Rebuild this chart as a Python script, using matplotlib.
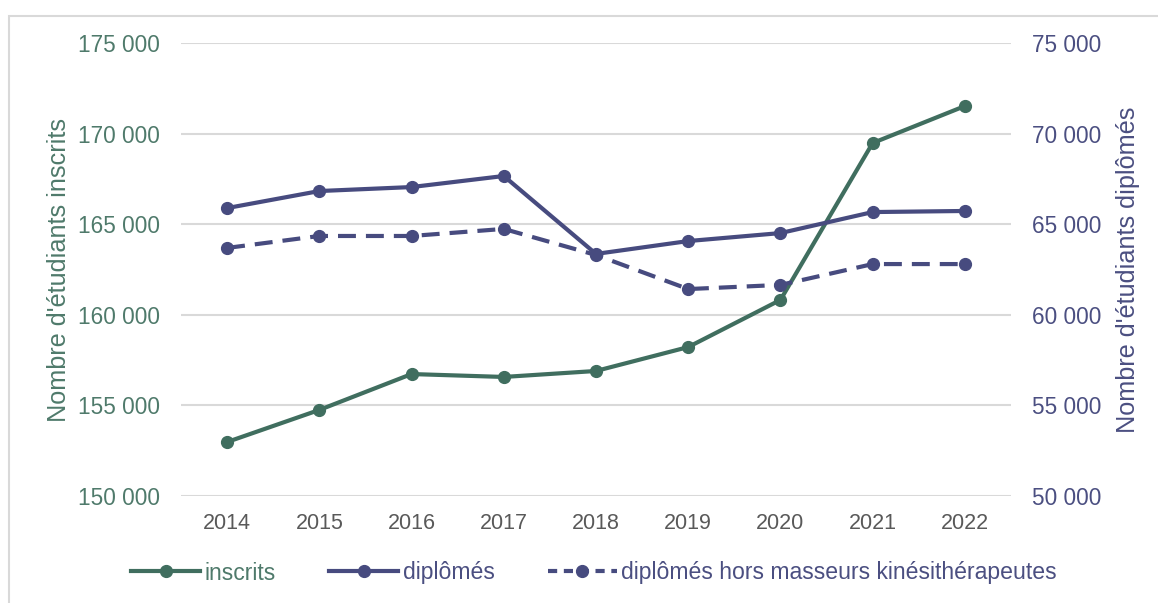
import matplotlib.pyplot as plt
import matplotlib.ticker as mticker
from matplotlib.lines import Line2D
from matplotlib.patches import Rectangle

# data
years = [2014, 2015, 2016, 2017, 2018, 2019, 2020, 2021, 2022]
inscrits = [152980, 154750, 156730, 156570, 156900, 158220, 160820, 169480, 171520]
diplomes = [65890, 66830, 67050, 67660, 63360, 64070, 64510, 65670, 65730]
diplomes_hors_mk = [63690, 64350, 64350, 64740, 63300, 61420, 61650, 62800, 62800]

green = '#406e5f'
navy = '#474b7f'
green_txt = '#4f7a6b'
navy_txt = '#4b4f81'
grid_col = '#d9d9d9'

plt.rcParams['font.family'] = ['Liberation Sans', 'DejaVu Sans']
fs = 16.3

def fmt_space(v, pos):
    return f'{int(v):,}'.replace(',', ' ')

fig = plt.figure(figsize=(11.58, 6.03), dpi=100)
fig.patches.append(Rectangle((9 / 1158, -0.1), 1.2, 1 - 16 / 603 + 0.1,
                             transform=fig.transFigure, fill=False,
                             edgecolor=grid_col, linewidth=1.5))

ax = fig.add_axes([181 / 1158, 1 - 496 / 603, (1011 - 181) / 1158, (496 - 43) / 603])
ax2 = ax.twinx()

ax.set_xlim(2013.5, 2022.5)
ax.set_ylim(150000, 175000)
ax2.set_ylim(50000, 75000)
ax.set_yticks(range(150000, 175001, 5000))
ax2.set_yticks(range(50000, 75001, 5000))
ax.set_xticks(years)

ax.grid(axis='y', color=grid_col, linewidth=1.5)
ax.set_axisbelow(True)

ax.plot(years, inscrits, color=green, linewidth=3, marker='o', markersize=8.5, zorder=3)
ax2.plot(years, diplomes, color=navy, linewidth=3, marker='o', markersize=8.5)
ax2.plot(years, diplomes_hors_mk, color=navy, linewidth=3, marker='o', markersize=8.5,
         dashes=(4.3, 2.4))

for a in (ax, ax2):
    for s in a.spines.values():
        s.set_visible(False)
    a.tick_params(length=0, labelsize=fs)
    a.yaxis.set_major_formatter(mticker.FuncFormatter(fmt_space))

ax.tick_params(axis='y', colors=green_txt, pad=15)
ax2.tick_params(axis='y', colors=navy_txt, pad=15)
ax.tick_params(axis='x', colors='#595959', labelsize=15.5, pad=12)

ax.set_ylabel("Nombre d'étudiants inscrits", color=green_txt, fontsize=18.2, labelpad=5)
ax2.set_ylabel("Nombre d'étudiants diplômés", color=navy_txt, fontsize=18.2, labelpad=11)

handles = [
    Line2D([], [], color=green, linewidth=3, marker='o', markersize=8.5),
    Line2D([], [], color=navy, linewidth=3, marker='o', markersize=8.5),
    Line2D([], [], color=navy, linewidth=3, marker='o', markersize=8.5, dashes=(2.2, 1.6)),
]
labels = ['inscrits', 'diplômés', 'diplômés hors masseurs kinésithérapeutes']
leg = fig.legend(handles, labels, loc='center', bbox_to_anchor=(594 / 1158, 1 - 573 / 603),
                 ncol=3, frameon=False, fontsize=16.6, handlelength=3.0,
                 handletextpad=0.2, columnspacing=2.3)
for t, c in zip(leg.get_texts(), [green_txt, navy_txt, navy_txt]):
    t.set_color(c)

fig.savefig('out.png', dpi=100)
